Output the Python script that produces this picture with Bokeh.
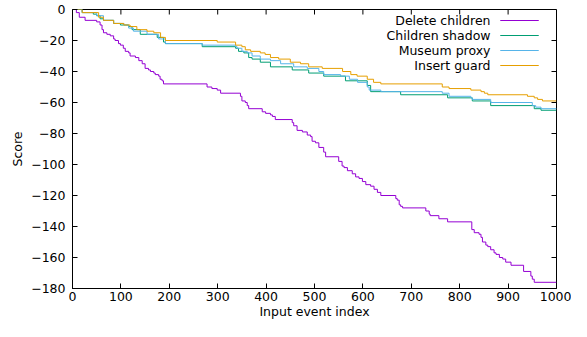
import math
from bokeh.plotting import figure
from bokeh.models import Range1d, FixedTicker, Label, BoxAnnotation
from bokeh.embed import file_html
from bokeh.resources import INLINE

# ---- data ----
delete_x = [0, 8, 14, 26, 50, 57, 61, 64, 71, 78, 85, 88, 95, 99, 105, 109, 116, 119, 130, 137,
            144, 150, 157, 161, 168, 171, 178, 181, 185, 188, 278, 288, 299, 306, 347, 350, 357, 361,
            364, 392, 399, 409, 413, 419, 454, 457, 464, 475, 485, 492, 495, 502, 509, 519, 523, 550,
            557, 561, 568, 578, 585, 592, 599, 606, 616, 623, 630, 637, 668, 671, 675, 678, 682, 730,
            737, 739, 757, 775, 825, 830, 840, 844, 847, 854, 858, 864, 871, 875, 882, 889, 895, 906,
            932, 947, 950, 954, 1000]
delete_y = [0, -2, -5, -7, -8, -10, -13, -15, -16, -17, -19, -20, -22, -23, -25, -27, -28, -30, -31, -33,
            -35, -38, -39, -40, -41, -42, -43, -45, -46, -48, -50, -51, -52, -54, -56, -59, -60, -62,
            -64, -66, -67, -68, -69, -71, -73, -75, -78, -79, -81, -82, -85, -86, -89, -92, -95, -98,
            -101, -102, -104, -106, -108, -109, -111, -113, -114, -116, -118, -120, -122, -123, -126,
            -127, -128, -130, -132, -133, -135, -137, -142, -144, -145, -147, -150, -152, -153, -155,
            -157, -158, -160, -161, -163, -165, -169, -172, -174, -176, -176]

shadow_x = [0, 20, 43, 50, 57, 64, 85, 99, 116, 123, 140, 175, 188, 192, 268, 337, 343, 354, 364, 371,
            388, 409, 454, 488, 519, 564, 609, 616, 678, 775, 826, 864, 954, 968, 1000]
shadow_y = [0, -2, -3, -4, -6, -7, -9, -10, -11, -13, -16, -18, -21, -22, -24, -25, -27, -28, -31, -32,
            -34, -37, -39, -41, -43, -46, -49, -53, -55, -57, -59, -62, -64, -65, -65]

museum_x = [0, 20, 50, 64, 85, 106, 116, 126, 154, 178, 192, 268, 337, 340, 350, 361, 371, 388, 409, 430,
            457, 485, 509, 519, 554, 572, 589, 609, 613, 637, 764, 778, 823, 826, 864, 950, 957, 968, 1000]
museum_y = [0, -2, -4, -7, -9, -10, -12, -14, -16, -19, -22, -23, -24, -25, -27, -28, -30, -32, -33, -35,
            -37, -38, -40, -42, -43, -45, -47, -50, -52, -53, -54, -56, -57, -58, -60, -62, -63, -64, -64]

guard_x = [0, 20, 54, 64, 85, 106, 119, 133, 154, 168, 182, 192, 299, 337, 350, 357, 368, 388, 398, 409,
           426, 450, 471, 488, 516, 558, 575, 588, 609, 622, 637, 764, 778, 823, 844, 851, 858, 940, 954,
           961, 971, 1000]
guard_y = [0, -2, -5, -7, -9, -10, -11, -13, -14, -15, -18, -20, -21, -23, -24, -26, -27, -28, -29, -31,
           -32, -34, -35, -37, -38, -40, -42, -43, -45, -47, -48, -50, -51, -52, -53, -54, -55, -56, -57,
           -58, -59, -59]

series_names = ["Delete children", "Children shadow", "Museum proxy", "Insert guard"]
series_colors = ["#9400d3", "#009e73", "#56b4e9", "#e69f00"]

x_ticks = [0, 100, 200, 300, 400, 500, 600, 700, 800, 900, 1000]
y_ticks = [-180, -160, -140, -120, -100, -80, -60, -40, -20, 0]

FONT = "DejaVu Sans"
FS = "12.5px"

p = figure(width=571, height=321, x_range=Range1d(0, 1000), y_range=Range1d(-180, 0),
           output_backend="svg", toolbar_location=None,
           min_border_left=72, min_border_right=15, min_border_top=9, min_border_bottom=30)
p.grid.visible = False
p.outline_line_color = "black"
p.outline_line_alpha = 1.0
p.outline_line_width = 1
p.background_fill_color = "white"
p.border_fill_color = "white"

data = [(delete_x, delete_y), (shadow_x, shadow_y), (museum_x, museum_y), (guard_x, guard_y)]
for (xs, ys), c in zip(data, series_colors):
    p.step(xs, ys, mode="after", line_color=c, line_width=1)


def style_axis(ax, ticks):
    ax.ticker = FixedTicker(ticks=ticks)
    ax.major_tick_in = 5
    ax.major_tick_out = 0
    ax.minor_tick_in = 0
    ax.minor_tick_out = 0
    ax.axis_line_color = "black"
    ax.major_tick_line_color = "black"
    ax.major_label_text_font = FONT
    ax.major_label_text_font_size = FS
    ax.major_label_text_color = "black"
    ax.axis_label_text_font = FONT
    ax.axis_label_text_font_size = FS
    ax.axis_label_text_font_style = "normal"
    ax.axis_label_text_color = "black"


xa = p.xaxis[0]
style_axis(xa, x_ticks)
xa.axis_label = "Input event index"
xa.major_label_standoff = 3
xa.axis_label_standoff = 0

ya = p.yaxis[0]
style_axis(ya, y_ticks)
ya.axis_label = "Score"
ya.major_label_standoff = 7
ya.axis_label_standoff = 3

# mirrored inward ticks on the top and right edges of the frame (gnuplot border ticks)
TICK_LEN = 5
p.ray(x=x_ticks, y=[0] * len(x_ticks), length=TICK_LEN, length_units="screen",
      angle=-math.pi / 2, line_color="black", line_width=1)
p.ray(x=[1000] * len(y_ticks), y=y_ticks, length=TICK_LEN, length_units="screen",
      angle=math.pi, line_color="black", line_width=1)

# gnuplot-style key: text right-aligned, sample line to its right (frame-relative screen units)
key_text_right = 418
key_line_left = 428
key_line_right = 466
key_top = 268
key_step = 15
for i, (name, c) in enumerate(zip(series_names, series_colors)):
    yy = key_top - i * key_step
    p.add_layout(Label(x=key_text_right, y=yy, x_units="screen", y_units="screen", text=name,
                       text_align="right", text_baseline="middle", text_font=FONT,
                       text_font_size=FS, text_color="black"))
    p.add_layout(BoxAnnotation(left=key_line_left, right=key_line_right, bottom=yy, top=yy,
                               left_units="screen", right_units="screen",
                               bottom_units="screen", top_units="screen",
                               fill_alpha=0, line_color=c, line_width=1, line_alpha=1))

open("out.html", "w").write(file_html(p, INLINE))
